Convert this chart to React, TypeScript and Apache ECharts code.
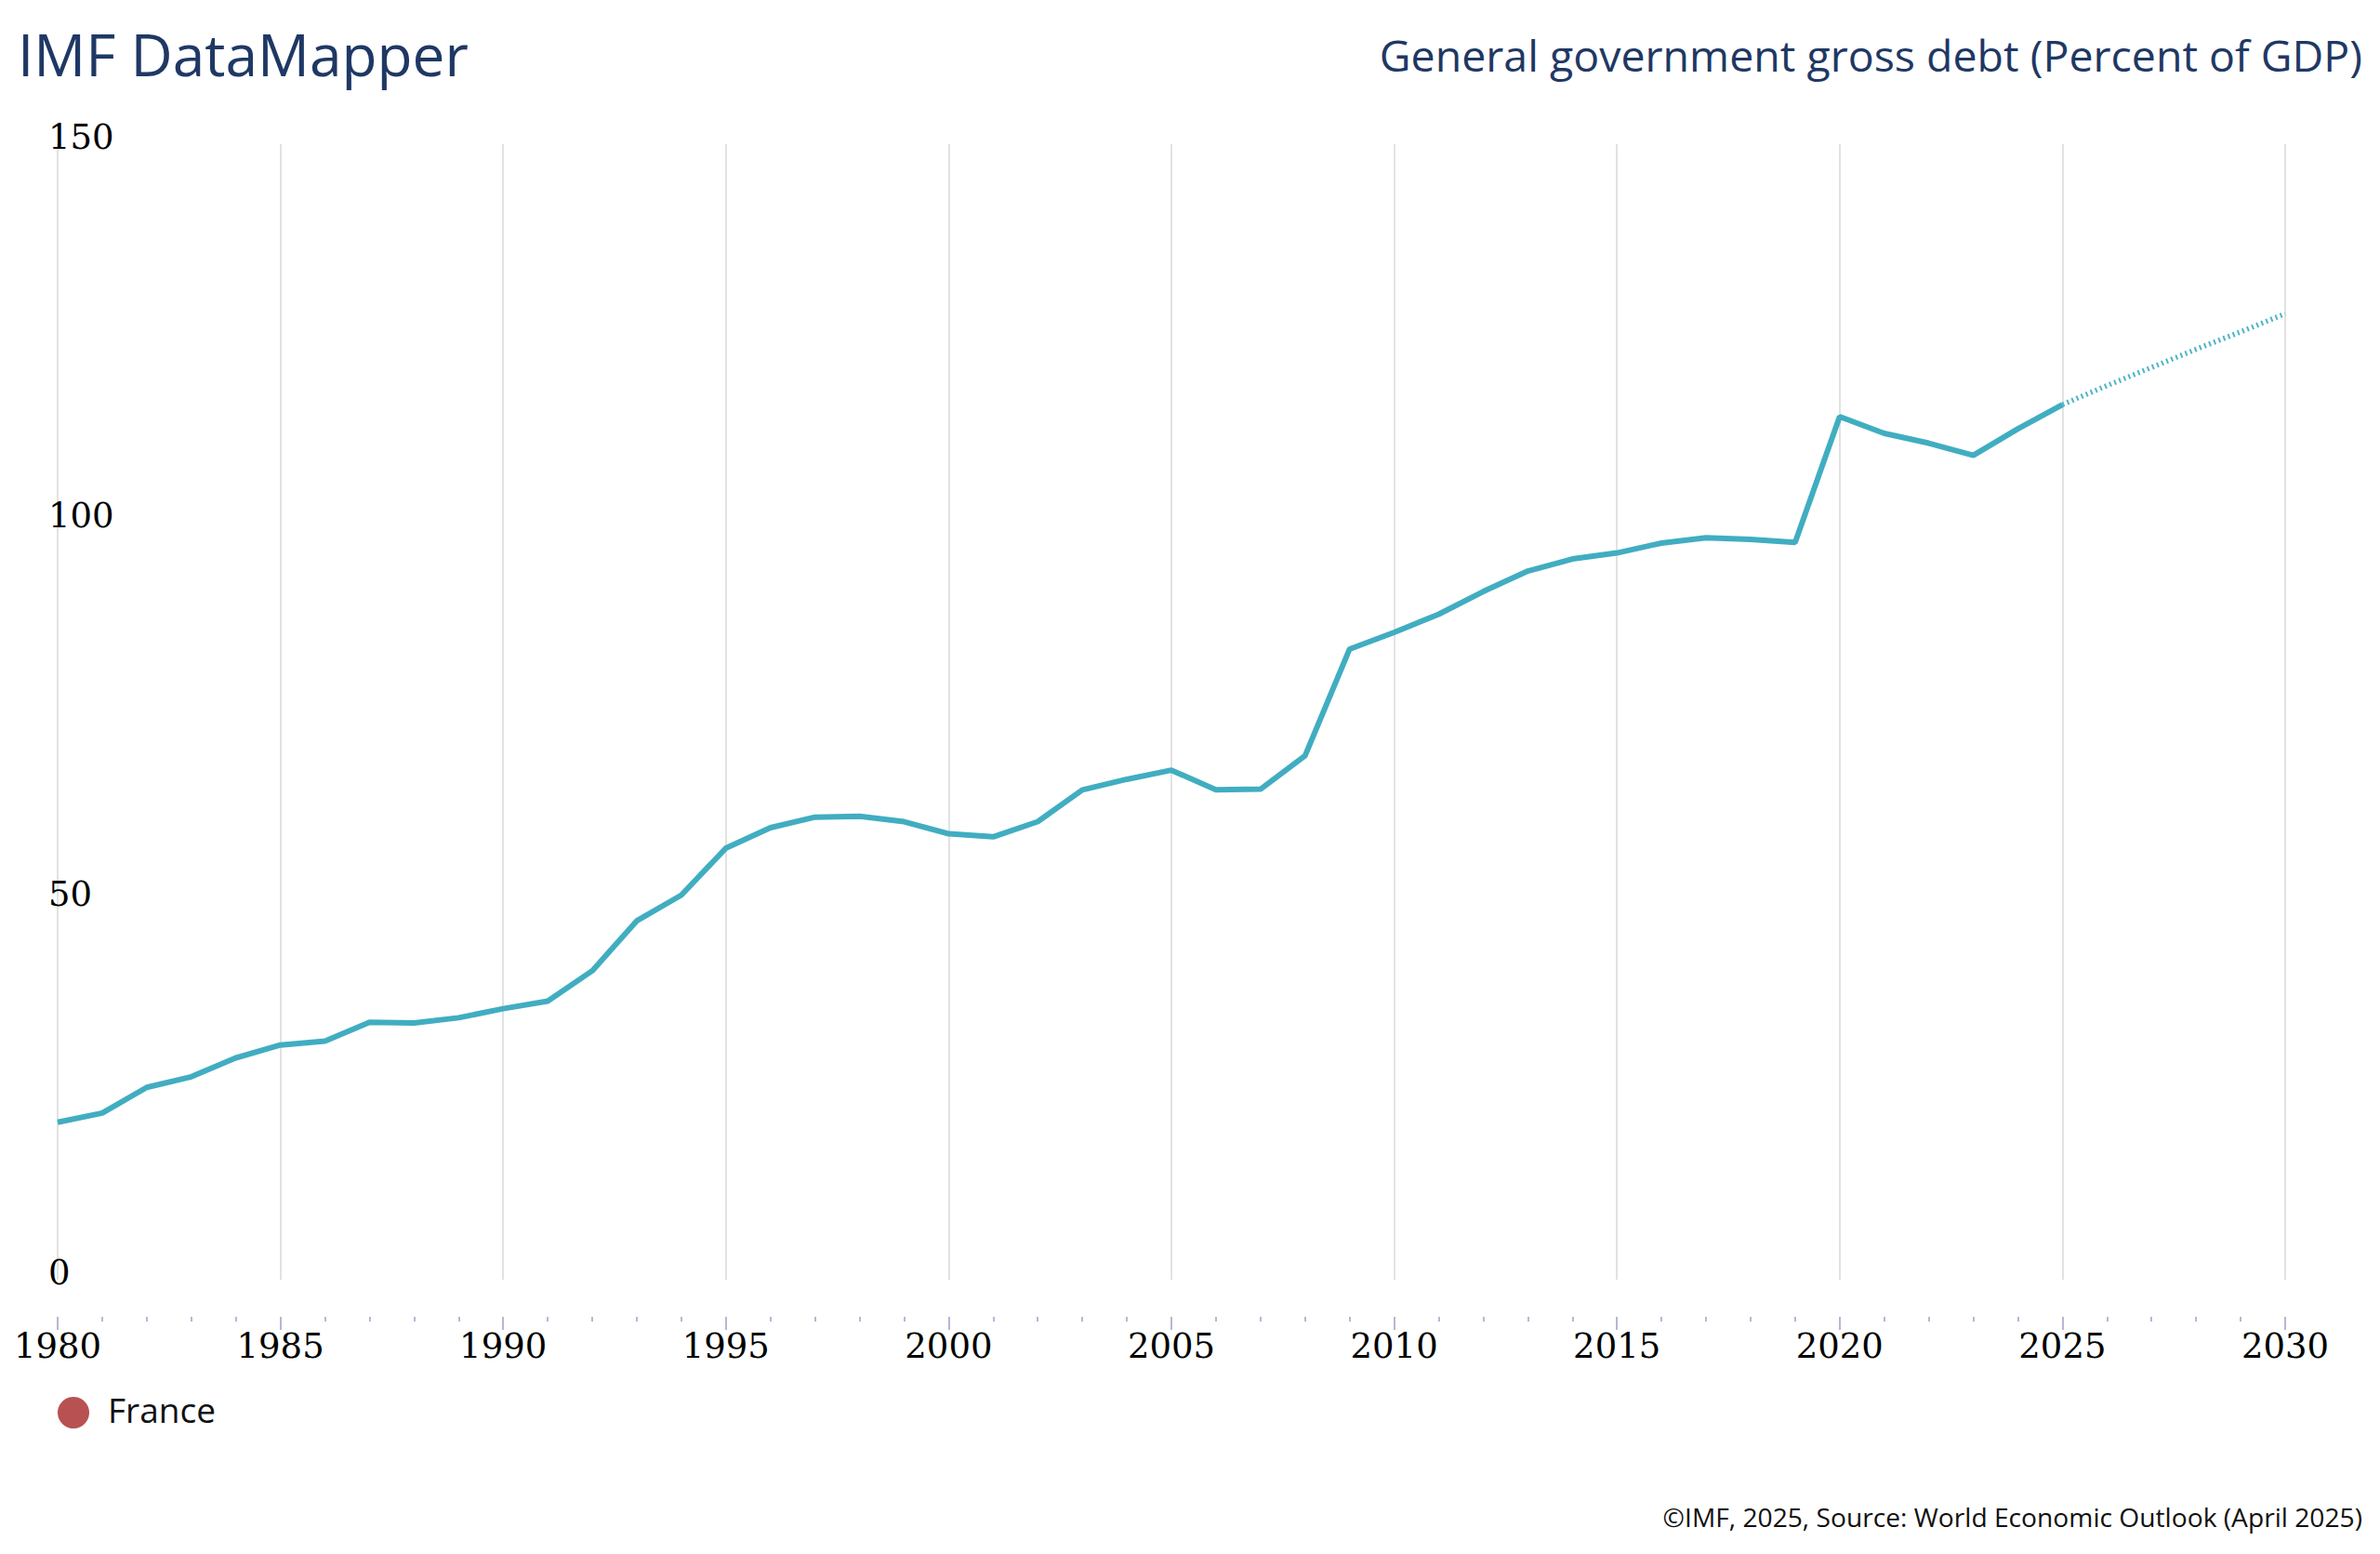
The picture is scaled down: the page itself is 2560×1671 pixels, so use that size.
import React, { useEffect, useRef } from "react";
import * as echarts from "echarts";

const years: number[] = [
  1980, 1981, 1982, 1983, 1984, 1985, 1986, 1987, 1988, 1989,
  1990, 1991, 1992, 1993, 1994, 1995, 1996, 1997, 1998, 1999,
  2000, 2001, 2002, 2003, 2004, 2005, 2006, 2007, 2008, 2009,
  2010, 2011, 2012, 2013, 2014, 2015, 2016, 2017, 2018, 2019,
  2020, 2021, 2022, 2023, 2024, 2025, 2026, 2027, 2028, 2029, 2030,
];

const debt: number[] = [
  20.8, 22.0, 25.4, 26.8, 29.3, 31.0, 31.5, 34.0, 33.9, 34.6,
  35.8, 36.8, 40.8, 47.4, 50.8, 57.0, 59.7, 61.1, 61.2, 60.5,
  58.9, 58.5, 60.5, 64.7, 66.1, 67.3, 64.7, 64.8, 69.2, 83.3,
  85.5, 87.9, 90.9, 93.6, 95.2, 96.0, 97.3, 98.0, 97.8, 97.4,
  114.0, 111.8, 110.5, 108.9, 112.4, 115.6, 118.1, 120.5, 122.9, 125.2, 127.6,
];

const lastActualYear = 2025;
const yTicks: number[] = [0, 50, 100, 150];

const TITLE = "IMF DataMapper";
const SUBTITLE = "General government gross debt (Percent of GDP)";
const FOOTER = "©IMF, 2025, Source: World Economic Outlook (April 2025)";
const LEGEND_NAME = "France";

export default function App() {
  const ref = useRef<HTMLDivElement>(null);

  useEffect(() => {
    if (!ref.current) return;
    const chart = echarts.init(ref.current, undefined, { renderer: "svg" });

    const actual: [number, number][] = [];
    const proj: [number, number][] = [];
    years.forEach((y, i) => {
      if (y <= lastActualYear) actual.push([y, debt[i]]);
      if (y >= lastActualYear) proj.push([y, debt[i]]);
    });

    const serif = "DejaVu Serif";
    const sans = "Open Sans";
    const tickColor = "#9ba0c4";

    chart.setOption({
      animation: false,
      backgroundColor: "#ffffff",
      grid: [
        { left: 62, right: 102, top: 155, bottom: 295, containLabel: false },
        { left: 62, right: 102, top: 1400, height: 16, containLabel: false },
      ],
      xAxis: [
        {
          type: "value",
          gridIndex: 0,
          min: 1980,
          max: 2030,
          interval: 5,
          axisLine: { show: false },
          axisTick: { show: false },
          axisLabel: { show: false },
          splitLine: { show: true, lineStyle: { color: "#e2e2e2", width: 2 } },
        },
        {
          type: "value",
          gridIndex: 1,
          position: "bottom",
          min: 1980,
          max: 2030,
          interval: 5,
          axisLine: { show: false },
          axisTick: { show: true, length: 14, lineStyle: { color: tickColor, width: 1.5 } },
          minorTick: { show: true, splitNumber: 5, length: 5, lineStyle: { color: tickColor, width: 1.5 } },
          splitLine: { show: false },
          minorSplitLine: { show: false },
          axisLabel: {
            formatter: (v: number) => String(v),
            margin: 13,
            fontFamily: serif,
            fontSize: 37,
            color: "#000000",
          },
        },
      ],
      yAxis: [
        {
          type: "value",
          gridIndex: 0,
          min: yTicks[0],
          max: yTicks[yTicks.length - 1],
          interval: 50,
          axisLine: { show: false },
          axisTick: { show: false },
          splitLine: { show: false },
          axisLabel: {
            inside: true,
            margin: -10,
            align: "left",
            verticalAlign: "bottom",
            lineHeight: 16,
            formatter: (v: number) => String(v),
            fontFamily: serif,
            fontSize: 37,
            color: "#000000",
          },
        },
        {
          type: "value",
          gridIndex: 1,
          min: 0,
          max: 1,
          show: false,
        },
      ],
      series: [
        {
          type: "line",
          name: LEGEND_NAME,
          xAxisIndex: 0,
          yAxisIndex: 0,
          data: actual,
          symbol: "none",
          lineStyle: { color: "#41adc1", width: 6 },
          z: 3,
        },
        {
          type: "line",
          name: LEGEND_NAME + " projection",
          xAxisIndex: 0,
          yAxisIndex: 0,
          data: proj,
          symbol: "none",
          lineStyle: { color: "#4fb4c7", width: 5.5, type: [2, 3.5] },
          z: 3,
        },
      ],
      graphic: [
        {
          type: "text",
          left: 19,
          top: 27,
          style: { text: TITLE, fontFamily: sans, fontSize: 62.2, fill: "#1f3864" },
        },
        {
          type: "text",
          right: 19,
          top: 35,
          style: { text: SUBTITLE, fontFamily: sans, fontSize: 46.5, fill: "#1f3864" },
        },
        {
          type: "circle",
          shape: { cx: 79, cy: 1519, r: 17 },
          style: { fill: "#b85252" },
        },
        {
          type: "text",
          left: 116,
          top: 1497,
          style: { text: LEGEND_NAME, fontFamily: sans, fontSize: 37, fill: "#111111" },
        },
        {
          type: "text",
          right: 19,
          top: 1617,
          style: { text: FOOTER, fontFamily: sans, fontSize: 28.2, fill: "#111111" },
        },
      ],
    });

    return () => chart.dispose();
  }, []);

  return (
    <div
      ref={ref}
      style={{ position: "absolute", left: 0, top: 0, width: 2560, height: 1671, background: "#fff" }}
    />
  );
}
